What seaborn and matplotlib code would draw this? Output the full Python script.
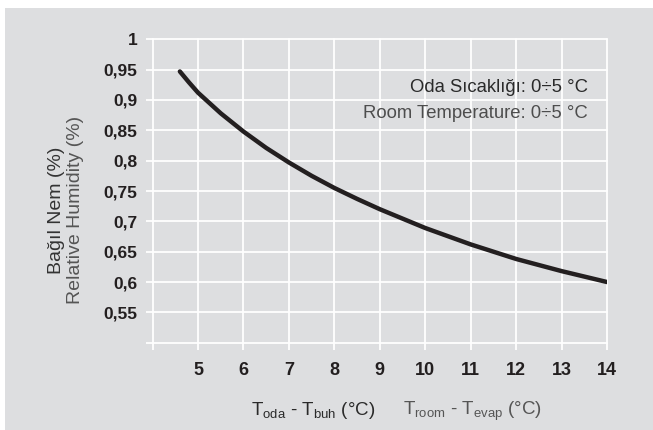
import matplotlib
matplotlib.use("Agg")
import matplotlib.pyplot as plt
import matplotlib.patches as mpatches
import seaborn as sns
import pandas as pd

# values
temp_diff = [4.6, 4.8, 5, 5.5, 6, 6.5, 7, 7.5, 8, 8.5, 9, 10, 11, 12, 13, 14]
humidity = [0.947, 0.929, 0.912, 0.878, 0.848, 0.821, 0.797, 0.775, 0.755, 0.737,
            0.720, 0.689, 0.662, 0.638, 0.618, 0.600]

x_ticks = [4, 5, 6, 7, 8, 9, 10, 11, 12, 13, 14]
x_tick_labels = ['', '5', '6', '7', '8', '9', '10', '11', '12', '13', '14']
y_ticks = [0.5, 0.55, 0.6, 0.65, 0.7, 0.75, 0.8, 0.85, 0.9, 0.95, 1.0]
y_tick_labels = ['', '0,55', '0,6', '0,65', '0,7', '0,75', '0,8', '0,85', '0,9', '0,95', '1']

PANEL = '#dddee0'
INK = '#231f20'


def set_style():
    sns.set_theme(style="white")
    plt.rcParams['font.family'] = ['Liberation Sans', 'DejaVu Sans']
    plt.rcParams['mathtext.fontset'] = 'custom'
    plt.rcParams['mathtext.rm'] = 'Liberation Sans'
    plt.rcParams['mathtext.it'] = 'Liberation Sans'


def main():
    set_style()
    df = pd.DataFrame({'dt': temp_diff, 'rh': humidity})

    fig = plt.figure(figsize=(6.53, 4.30), dpi=100)
    fig.patch.set_facecolor('white')
    # grey backdrop panel
    fig.patches.append(mpatches.Rectangle((5 / 653, 0), 1, 1 - 8 / 430, transform=fig.transFigure,
                                          facecolor=PANEL, edgecolor='none', zorder=-5))

    ax = fig.add_axes([0.2337, 0.2030, 0.6959, 0.7056])
    ax.set_zorder(2)
    ax.set_facecolor(PANEL)

    sns.lineplot(data=df, x='dt', y='rh', ax=ax, color=INK, linewidth=3.2,
                 solid_capstyle='round', solid_joinstyle='round', zorder=3)

    ax.set_xlim(4, 14)
    ax.set_ylim(0.5, 1.0)
    ax.set_xticks(x_ticks)
    ax.set_xticklabels(x_tick_labels)
    ax.set_yticks(y_ticks)
    ax.set_yticklabels(y_tick_labels)
    ax.set_xlabel('')
    ax.set_ylabel('')

    ax.grid(True, color='white', linewidth=1.3)
    for gl in ax.get_xgridlines() + ax.get_ygridlines():
        gl.set_clip_on(False)
    for s in ax.spines.values():
        s.set_visible(False)

    ax.tick_params(axis='both', which='major', color='white', length=5, width=1.3,
                   bottom=True, left=True)
    ax.tick_params(axis='x', pad=9, labelsize=13, labelcolor=INK)
    ax.tick_params(axis='y', pad=6, labelsize=12.5, labelcolor=INK)
    for lab in ax.get_xticklabels() + ax.get_yticklabels():
        lab.set_fontweight('bold')

    # annotation
    ax.text(0.958, 0.8395, 'Oda Sıcaklığı: 0÷5 °C', transform=ax.transAxes,
            ha='right', va='center', fontsize=13.3, color='#2a2a2a')
    ax.text(0.958, 0.757, 'Room Temperature: 0÷5 °C', transform=ax.transAxes,
            ha='right', va='center', fontsize=13.3, color='#4d4d4d')

    # y axis titles (two languages)
    fig.text(0.0858, 0.512, 'Bağıl Nem (%)', rotation=90, ha='center', va='center',
             fontsize=14, color='#333333')
    fig.text(0.1149, 0.512, 'Relative Humidity (%)', rotation=90, ha='center', va='center',
             fontsize=14, color='#555555')

    # x axis titles (two languages)
    fig.text(0.479, 0.034, r'T$_{\mathregular{oda}}$ - T$_{\mathregular{buh}}$ (°C)',
             ha='center', va='baseline', fontsize=13.5, color='#2a2a2a')
    fig.text(0.7236, 0.034, r'T$_{\mathregular{room}}$ - T$_{\mathregular{evap}}$ (°C)',
             ha='center', va='baseline', fontsize=13.5, color='#555555')

    fig.savefig('out.png', dpi=100, facecolor='white')
    plt.close(fig)


if __name__ == "__main__":
    main()
